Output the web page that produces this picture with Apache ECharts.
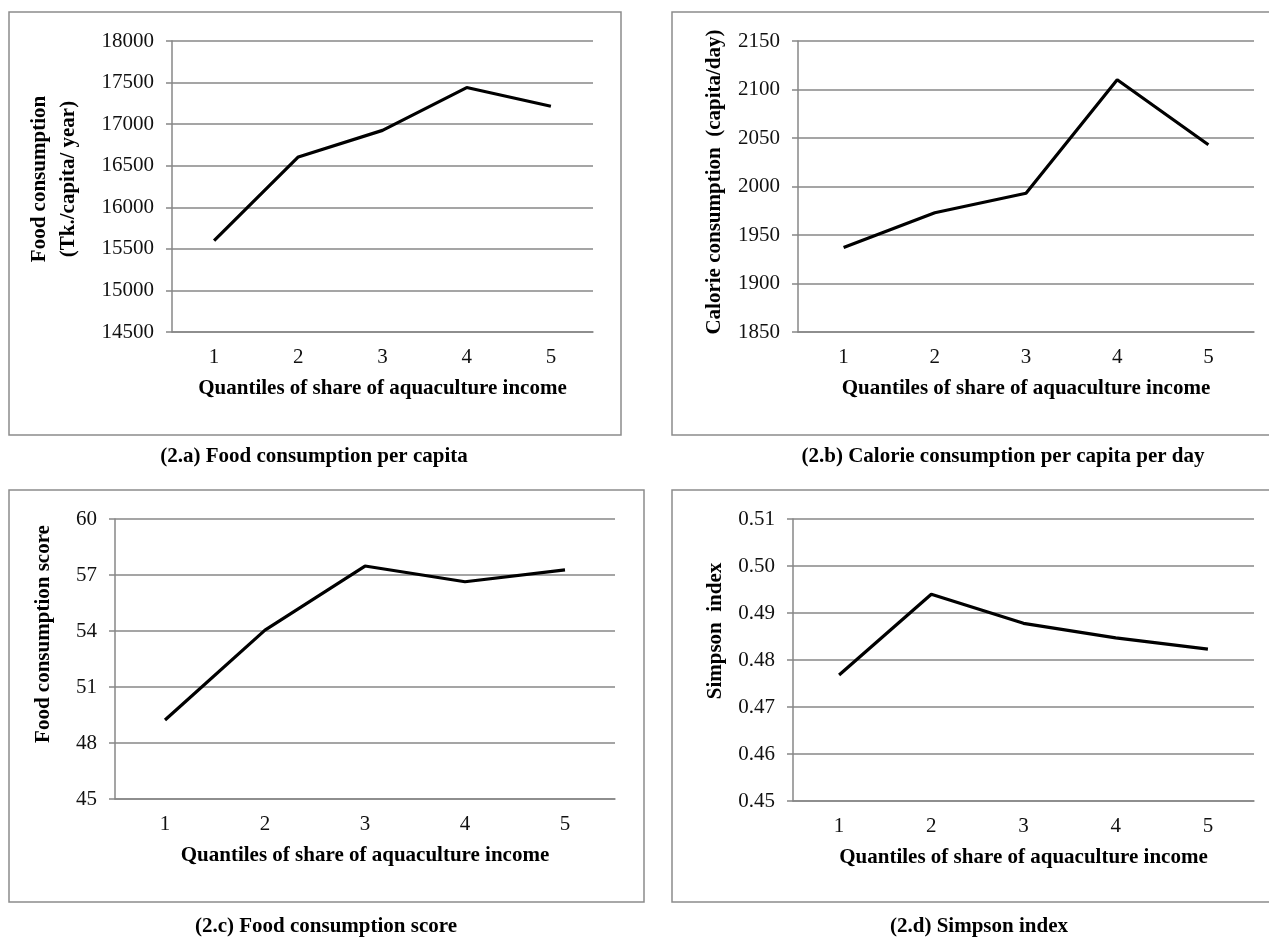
<!DOCTYPE html>
<html><head><meta charset="utf-8">
<script src="https://cdn.jsdelivr.net/npm/echarts@6/dist/echarts.min.js"></script>
<style>html,body{margin:0;padding:0;background:#fff}#c{width:1269px;height:937px}</style>
</head><body><div id="c"></div>
<script>
// ---- data ----
const categories = ['1', '2', '3', '4', '5'];
const foodConsumption = [15600, 16605, 16925, 17440, 17215];
const calorieConsumption = [1937, 1973, 1993, 2110, 2043];
const foodConsumptionScore = [49.23, 54.05, 57.48, 56.64, 57.27];
const simpsonIndex = [0.4768, 0.4940, 0.4878, 0.4847, 0.4823];
const xTitle = 'Quantiles of share of aquaculture income';
const yTitles = ['Food consumption\n(Tk./capita/ year)', 'Calorie consumption  (capita/day)', 'Food consumption score', 'Simpson  index'];
const captions = ['(2.a) Food consumption per capita', '(2.b) Calorie consumption per capita per day', '(2.c) Food consumption score', '(2.d) Simpson index'];
const yMins = [14500, 1850, 45, 0.45];
const yMaxs = [18000, 2150, 60, 0.51];
const yIntervals = [500, 50, 3, 0.01];
const yDecimals = [0, 0, 0, 2];

// ---- layout ----
const FONT = "'Liberation Serif', 'Times New Roman', serif";
const GRID_COLOR = '#878787';
const grids = [
  {left: 172, top: 41, width: 421, height: 291},
  {left: 798, top: 41, width: 456, height: 291},
  {left: 115, top: 519, width: 500, height: 280},
  {left: 793, top: 519, width: 461, height: 282}
];
const nameGaps = [89, 69, 57, 63];
const nameShift = [15, 9, 50, 58];
const boxes = [
  {x: 9, y: 12, w: 612, h: 423},
  {x: 672, y: 12, w: 620, h: 423},
  {x: 9, y: 490, w: 635, h: 412},
  {x: 672, y: 490, w: 620, h: 412}
];
const captionPos = [[314, 457], [1003, 457], [326, 927], [979, 927]];
const seriesData = [foodConsumption, calorieConsumption, foodConsumptionScore, simpsonIndex];

const xAxes = [], yAxes = [], series = [], graphics = [];
for (let i = 0; i < 4; i++) {
  xAxes.push({
    type: 'category', gridIndex: i, data: categories, boundaryGap: true,
    axisLine: {show: true, lineStyle: {color: GRID_COLOR, width: 1.5}},
    axisTick: {show: false},
    axisLabel: {fontFamily: FONT, fontSize: 21, color: '#111', margin: 15},
    name: xTitle, nameLocation: 'middle', nameGap: 46,
    nameTextStyle: {fontFamily: FONT, fontSize: 21, fontWeight: 'bold', color: '#000'}
  });
  const dec = yDecimals[i];
  yAxes.push({
    type: 'value', gridIndex: i, min: yMins[i], max: yMaxs[i], interval: yIntervals[i],
    axisLine: {show: true, lineStyle: {color: GRID_COLOR, width: 1.5}},
    axisTick: {show: true, length: 6, lineStyle: {color: GRID_COLOR, width: 1.5}},
    splitLine: {show: true, lineStyle: {color: GRID_COLOR, width: 1.5}},
    axisLabel: {fontFamily: FONT, fontSize: 21, color: '#111', margin: 18,
      formatter: v => Number(v).toFixed(dec)},
    name: yTitles[i], nameLocation: 'middle', nameGap: nameGaps[i], nameRotate: 90,
    nameTextStyle: {fontFamily: FONT, fontSize: 21, fontWeight: 'bold', color: '#000',
      lineHeight: 29, padding: [0, 0, 0, nameShift[i]]}
  });
  series.push({
    type: 'line', xAxisIndex: i, yAxisIndex: i, data: seriesData[i],
    symbol: 'none', smooth: false,
    lineStyle: {color: '#000', width: 3.2}
  });
  const b = boxes[i];
  graphics.push({
    type: 'rect', shape: {x: b.x, y: b.y, width: b.w, height: b.h}, silent: true, z: -1,
    style: {fill: 'none', stroke: '#8c8c8c', lineWidth: 1.5}
  });
  graphics.push({
    type: 'text', x: captionPos[i][0], y: captionPos[i][1], silent: true,
    style: {text: captions[i], font: 'bold 21px ' + FONT, fill: '#000',
      textAlign: 'center', textVerticalAlign: 'middle'}
  });
}

const chart = echarts.init(document.getElementById('c'), null, {renderer: 'canvas'});
chart.setOption({
  backgroundColor: '#fff',
  animation: false,
  grid: grids,
  xAxis: xAxes,
  yAxis: yAxes,
  series: series,
  graphic: graphics
});
</script>
</body></html>
